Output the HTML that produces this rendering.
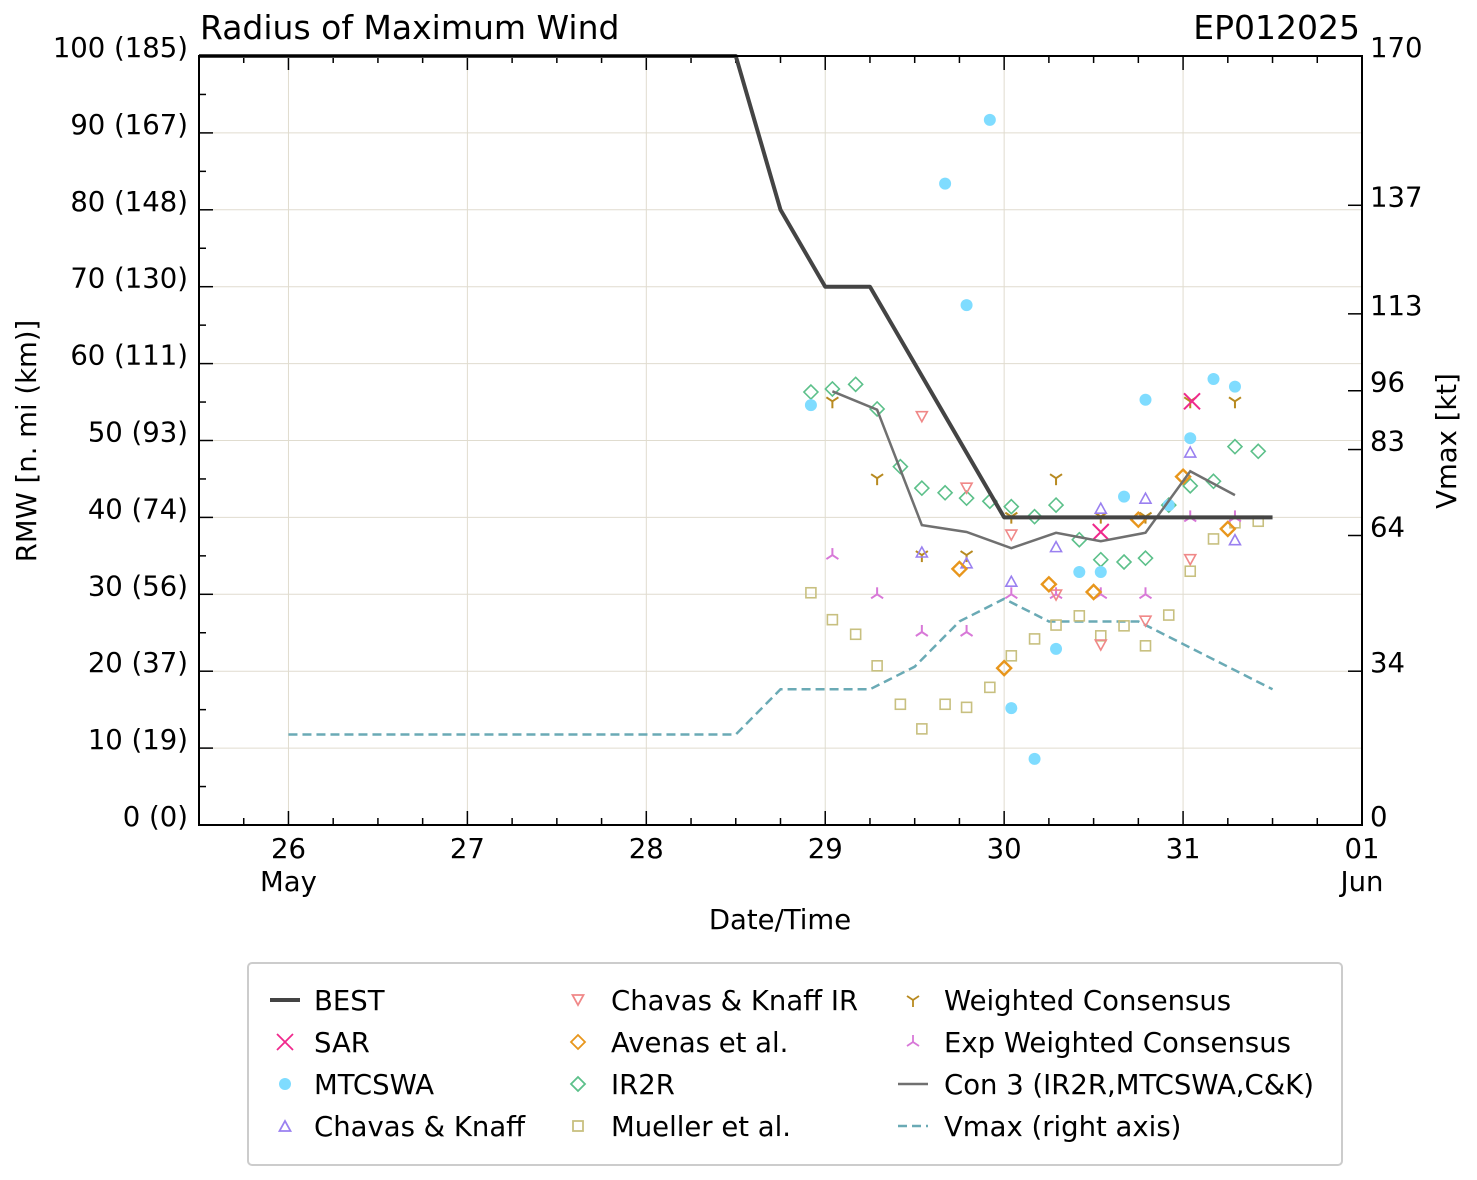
<!DOCTYPE html>
<html><head><meta charset="utf-8"><style>
body{margin:0;background:#fff}
svg{display:block;font-family:"DejaVu Sans","Liberation Sans",sans-serif}
</style></head><body>
<svg id="c" width="1477" height="1180" viewBox="0 0 1477 1180"></svg>
<script>
const bestT=[25.5,28.5,28.75,29,29.25,30,31.5];
const bestV=[100,100,80,70,70,40,40];
const vmaxT=[26,28.5,28.75,29.25,29.5,29.75,30,30.25,30.5,30.75,31.0,31.25,31.5];
const vmaxV=[20,20,30,30,35,45,50,45,45,45,40,35,30];
const mtcT=[28.92,29.67,29.79,29.92,30.04,30.17,30.29,30.42,30.54,30.67,30.79,30.92,31.04,31.17,31.29];
const mtcV=[54.6,83.4,67.6,91.7,15.2,8.6,22.9,32.9,32.9,42.7,55.3,41.6,50.3,58.0,57.0];
const ir2rT=[28.92,29.04,29.17,29.29,29.42,29.54,29.67,29.79,29.92,30.04,30.17,30.29,30.42,30.54,30.67,30.79,30.92,31.04,31.17,31.29,31.42];
const ir2rV=[56.3,56.7,57.3,54.1,46.6,43.8,43.2,42.5,42.1,41.4,40.1,41.6,37.1,34.5,34.2,34.7,41.6,44.1,44.7,49.2,48.6];
const ckirT=[29.54,29.79,30.04,30.29,30.54,30.79,31.04];
const ckirV=[53.1,43.8,37.7,29.9,23.4,26.5,34.5];
const ckT=[29.54,29.79,30.04,30.29,30.54,30.79,31.04,31.29];
const ckV=[35.5,34.1,31.7,36.2,41.2,42.5,48.5,37.1];
const avT=[29.75,30.0,30.25,30.5,30.75,31.0,31.25];
const avV=[33.3,20.4,31.3,30.3,39.7,45.3,38.5];
const muT=[28.92,29.04,29.17,29.29,29.42,29.54,29.67,29.79,29.92,30.04,30.17,30.29,30.42,30.54,30.67,30.79,30.92,31.04,31.17,31.29,31.42];
const muV=[30.2,26.7,24.8,20.7,15.7,12.5,15.7,15.3,17.9,22.0,24.2,26.0,27.2,24.6,25.9,23.3,27.3,33.0,37.2,39.3,39.5];
const wcT=[29.04,29.29,29.54,29.79,30.04,30.29,30.54,30.79,31.04,31.29];
const wcV=[55.1,45.1,35.1,35.1,40.1,45.1,40.1,40.1,55.1,55.1];
const ewT=[29.04,29.29,29.54,29.79,30.04,30.29,30.54,30.79,31.04,31.29];
const ewV=[35.1,30.0,25.1,25.1,30.0,30.0,30.0,30.0,40.0,40.0];
const sarT=[30.54,31.05];
const sarV=[38.1,55.1];
const conT=[29.04,29.29,29.54,29.79,30.04,30.29,30.54,30.79,31.04,31.29];
const conV=[56.4,54.0,39.0,38.1,36.0,38.0,36.9,38.0,46.0,42.9];
const yTicks=[0,10,20,30,40,50,60,70,80,90,100];
const yKm=[0,19,37,56,74,93,111,130,148,167,185];
const rTicks=[0,34,64,83,96,113,137,170];
const xTicks=[26,27,28,29,30,31,32];
const xLabels=["26","27","28","29","30","31","01"];
const xLabels2=["May","","","","","","Jun"];

const L=199,R=1362,T=56,B=825;
const X=d=>L+(d-25.5)/(32-25.5)*(R-L);
const Y=v=>B-v/100*(B-T);
const YR=v=>B-v/170*(B-T);
const svg=document.getElementById('c');
const NS='http://www.w3.org/2000/svg';
function mk(tag,at,parent){const e=document.createElementNS(NS,tag);for(const k in at)e.setAttribute(k,at[k]);(parent||svg).appendChild(e);return e;}
function txt(s,x,y,size,anchor,parent){const e=mk('text',{x:x,y:y,'font-size':size,'text-anchor':anchor||'start',fill:'#000'},parent);e.textContent=s;return e;}

const grid=mk('g',{stroke:'#e0dccf','stroke-width':1});


yTicks.forEach(v=>mk('line',{x1:L,x2:R,y1:Y(v),y2:Y(v)},grid));
xTicks.forEach(d=>mk('line',{x1:X(d),x2:X(d),y1:T,y2:B},grid));

const tk=mk('g',{stroke:'#000','stroke-width':1.5});


for(let v=0;v<=100;v+=5){const len=v%10===0?14:7;mk('line',{x1:L,x2:L+len,y1:Y(v),y2:Y(v)},tk);}
rTicks.forEach(v=>mk('line',{x1:R,x2:R-14,y1:YR(v),y2:YR(v)},tk));
for(let d=25.5;d<=32.001;d+=0.25){const maj=Math.abs(d-Math.round(d))<1e-6;const len=maj?14:7;mk('line',{x1:X(d),x2:X(d),y1:B,y2:B-len},tk);mk('line',{x1:X(d),x2:X(d),y1:T,y2:T+len},tk);}

const yl=mk('g',{});


yTicks.forEach((v,i)=>txt(v+' ('+yKm[i]+')',188,Y(v)+1,27.5,'end',yl));
const rl=mk('g',{});


rTicks.forEach(v=>txt(String(v),1370,YR(v)+1,27.5,'start',rl));
const xl=mk('g',{});


xTicks.forEach((d,i)=>{txt(xLabels[i],X(d),858,27.5,'middle',xl);if(xLabels2[i])txt(xLabels2[i],X(d),891,27.5,'middle',xl);});

const t1=txt('Radius of Maximum Wind',200,39,33,'start');


const t2=txt('EP012025',1360,39,33,'end');


const xt=txt('Date/Time',780,929,27.5,'middle');


const yt=txt('RMW [n. mi (km)]',0,0,27.5,'middle');
yt.setAttribute('transform','translate(36,441) rotate(-90)');


const ry=txt('Vmax [kt]',0,0,27.5,'middle');
ry.setAttribute('transform','translate(1456,441) rotate(-90)');



function pts(T_,V_,yf){return T_.map((t,i)=>X(t)+','+yf(V_[i])).join(' ');}
const vl=mk('polyline',{points:pts(vmaxT,vmaxV,YR),fill:'none',stroke:'#6aaab5','stroke-width':2.5,'stroke-dasharray':'9,5'});



function marker(type,x,y,g){
  const s=7;
  if(type==='circle')mk('circle',{cx:x,cy:y,r:6,fill:'#7fdcff',stroke:'none'},g);
  else if(type==='diamond')mk('polygon',{points:`${x},${y-s} ${x+s},${y} ${x},${y+s} ${x-s},${y}`,fill:'none'},g);
  else if(type==='tdown')mk('polygon',{points:`${x-5.5},${y-5} ${x+5.5},${y-5} ${x},${y+5}`,fill:'none'},g);
  else if(type==='tup')mk('polygon',{points:`${x-5.5},${y+5} ${x+5.5},${y+5} ${x},${y-5}`,fill:'none'},g);
  else if(type==='square')mk('rect',{x:x-5,y:y-5,width:10,height:10,fill:'none'},g);
  else if(type==='x'){mk('line',{x1:x-8,y1:y-8,x2:x+8,y2:y+8},g);mk('line',{x1:x-8,y1:y+8,x2:x+8,y2:y-8},g);}
  else if(type==='tri_down'){mk('line',{x1:x,y1:y,x2:x,y2:y+7},g);mk('line',{x1:x,y1:y,x2:x-6,y2:y-4},g);mk('line',{x1:x,y1:y,x2:x+6,y2:y-4},g);}
  else if(type==='tri_up'){mk('line',{x1:x,y1:y,x2:x,y2:y-7},g);mk('line',{x1:x,y1:y,x2:x-6,y2:y+4},g);mk('line',{x1:x,y1:y,x2:x+6,y2:y+4},g);}
}
function series(name,T_,V_,type,color,sw){
  const g=mk('g',{stroke:color,'stroke-width':sw||1.6,fill:'none'});
  
  
  T_.forEach((t,i)=>marker(type,X(t),Y(V_[i]),g));
}
series('mueller-points',muT,muV,'square','#c8c080');
series('ew-consensus-points',ewT,ewV,'tri_up','#d878d8',2);
series('w-consensus-points',wcT,wcV,'tri_down','#b88a20',2);
series('ir2r-points',ir2rT,ir2rV,'diamond','#5cc08a');
series('ck-ir-points',ckirT,ckirV,'tdown','#f08888');
series('ck-points',ckT,ckV,'tup','#9a80f0');
series('avenas-points',avT,avV,'diamond','#e8961c',2.4);
series('mtcswa-points',mtcT,mtcV,'circle','#7fdcff');
series('sar-points',sarT,sarV,'x','#f0288c',2);

const cl=mk('polyline',{points:pts(conT,conV,Y),fill:'none',stroke:'#707070','stroke-width':2.5});


const bl=mk('polyline',{points:pts(bestT,bestV,Y),fill:'none',stroke:'#444','stroke-width':4,'stroke-linejoin':'round'});



const fr=mk('rect',{x:L,y:T,width:R-L,height:B-T,fill:'none',stroke:'#000','stroke-width':2});



const lg=mk('g',{});


mk('rect',{x:248,y:963,width:1094,height:202,rx:4,fill:'#fff',stroke:'#ccc','stroke-width':2},lg);
const items=[
 ['BEST','line','#444',285,1000,314,{w:4}],
 ['SAR','x','#f0288c',285,1042,314,{}],
 ['MTCSWA','circle','#7fdcff',285,1084,314,{}],
 ['Chavas & Knaff','tup','#9a80f0',285,1126,314,{}],
 ['Chavas & Knaff IR','tdown','#f08888',578,1000,611,{}],
 ['Avenas et al.','diamond','#e8961c',578,1042,611,{}],
 ['IR2R','diamond','#5cc08a',578,1084,611,{}],
 ['Mueller et al.','square','#c8c080',578,1126,611,{}],
 ['Weighted Consensus','tri_down','#b88a20',913,1000,944,{}],
 ['Exp Weighted Consensus','tri_up','#d878d8',913,1042,944,{}],
 ['Con 3 (IR2R,MTCSWA,C&K)','line','#707070',913,1084,944,{w:2.5}],
 ['Vmax (right axis)','dash','#6aaab5',913,1126,944,{w:2.5}]
];
items.forEach(it=>{
  const [label,type,color,mx,my,tx,o]=it;
  const g=mk('g',{stroke:color,'stroke-width':o.w||1.8,fill:'none'},lg);
  
  
  if(type==='line')mk('line',{x1:mx-15,x2:mx+15,y1:my,y2:my},g);
  else if(type==='dash')mk('line',{x1:mx-15,x2:mx+15,y1:my,y2:my,'stroke-dasharray':'9,5'},g);
  else marker(type,mx,my,g);
  txt(label,tx,my+10,27.5,'start',lg);
});
</script>
</body></html>
